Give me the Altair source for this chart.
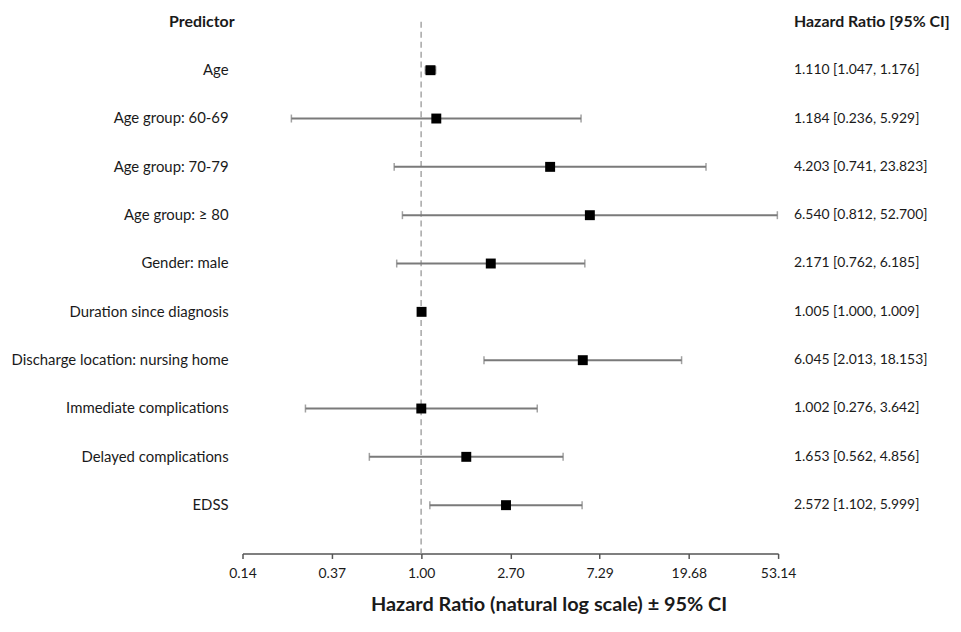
import altair as alt
import pandas as pd

predictors = [
    "Age",
    "Age group: 60-69",
    "Age group: 70-79",
    "Age group: \u2265 80",
    "Gender: male",
    "Duration since diagnosis",
    "Discharge location: nursing home",
    "Immediate complications",
    "Delayed complications",
    "EDSS",
]
hr = [1.110, 1.184, 4.203, 6.540, 2.171, 1.005, 6.045, 1.002, 1.653, 2.572]
ci_low = [1.047, 0.236, 0.741, 0.812, 0.762, 1.000, 2.013, 0.276, 0.562, 1.102]
ci_high = [1.176, 5.929, 23.823, 52.700, 6.185, 1.009, 18.153, 3.642, 4.856, 5.999]
tick_values = [0.137, 0.370, 1.00, 2.70, 7.29, 19.683, 53.144]

df = pd.DataFrame({
    "row": list(range(len(predictors))),
    "predictor": predictors,
    "hr": hr,
    "lo": ci_low,
    "hi": ci_high,
})
df["label"] = [f"{h:.3f} [{l:.3f}, {u:.3f}]" for h, l, u in zip(hr, ci_low, ci_high)]

header = pd.DataFrame({"row": [-1], "left": ["Predictor"], "right": ["Hazard Ratio [95% CI]"]})

FONT = "Lato"
TEXT = "#1a1a1a"

xscale = alt.Scale(type="log", domain=[tick_values[0], tick_values[-1]], nice=False, zero=False)
yscale = alt.Scale(domain=[-1, 10], reverse=True, nice=False, zero=False)

x_enc = alt.X(
    "lo:Q",
    scale=xscale,
    axis=alt.Axis(
        values=tick_values,
        format=".2f",
        title="Hazard Ratio (natural log scale) \u00b1 95% CI",
        grid=False,
        domainColor="#555555",
        domainWidth=1.5,
        tickColor="#555555",
        tickWidth=1.5,
        tickSize=5,
        labelFontSize=14,
        labelColor=TEXT,
        labelPadding=8,
        labelFlush=False,
        labelOverlap=False,
        labelFont=FONT,
        titleFont=FONT,
        titleFontSize=20,
        titleFontWeight="bold",
        titleColor=TEXT,
        titlePadding=14,
        titleX=308,
        titleAlign="center",
    ),
)
y_enc = alt.Y("row:Q", scale=yscale, axis=None)

base = alt.Chart(df)

ci_line = base.mark_rule(color="#7a7a7a", strokeWidth=2).encode(
    x=x_enc, x2="hi:Q", y=y_enc
)
cap_lo = base.mark_tick(orient="vertical", color="#7a7a7a", size=8, thickness=1.5).encode(
    x=alt.X("lo:Q", scale=xscale), y=alt.Y("row:Q", scale=yscale)
)
cap_hi = base.mark_tick(orient="vertical", color="#7a7a7a", size=8, thickness=1.5).encode(
    x=alt.X("hi:Q", scale=xscale), y=alt.Y("row:Q", scale=yscale)
)
ref = alt.Chart(pd.DataFrame({"v": [1.0]})).mark_rule(
    color="#a6a6a6", strokeWidth=1.5, strokeDash=[6, 4]
).encode(x=alt.X("v:Q", scale=xscale))
points = base.mark_square(size=100, color="black", opacity=1, filled=True).encode(
    x=alt.X("hr:Q", scale=xscale), y=alt.Y("row:Q", scale=yscale)
)
left_text = base.mark_text(align="right", baseline="middle", font=FONT, fontSize=15, color=TEXT).encode(
    x=alt.value(-14), y=alt.Y("row:Q", scale=yscale), text="predictor:N"
)
right_text = base.mark_text(align="left", baseline="middle", font=FONT, fontSize=14, color=TEXT).encode(
    x=alt.value(555), y=alt.Y("row:Q", scale=yscale), text="label:N"
)
hdr_left = alt.Chart(header).mark_text(
    align="right", baseline="middle", font=FONT, fontSize=16, fontWeight="bold", color=TEXT
).encode(x=alt.value(-8), y=alt.Y("row:Q", scale=yscale), text="left:N")
hdr_right = alt.Chart(header).mark_text(
    align="left", baseline="middle", font=FONT, fontSize=16, fontWeight="bold", color=TEXT
).encode(x=alt.value(555), y=alt.Y("row:Q", scale=yscale), text="right:N")

chart = alt.layer(
    ref, ci_line, cap_lo, cap_hi, points, left_text, right_text, hdr_left, hdr_right
).properties(
    width=539,
    height=535,
    padding={"left": 236, "top": 12, "right": 176, "bottom": 70},
    autosize=alt.AutoSizeParams(type="none"),
    background="white",
).configure_view(stroke=None)

chart.save("out.html", embed_options={"renderer": "svg", "actions": False})
